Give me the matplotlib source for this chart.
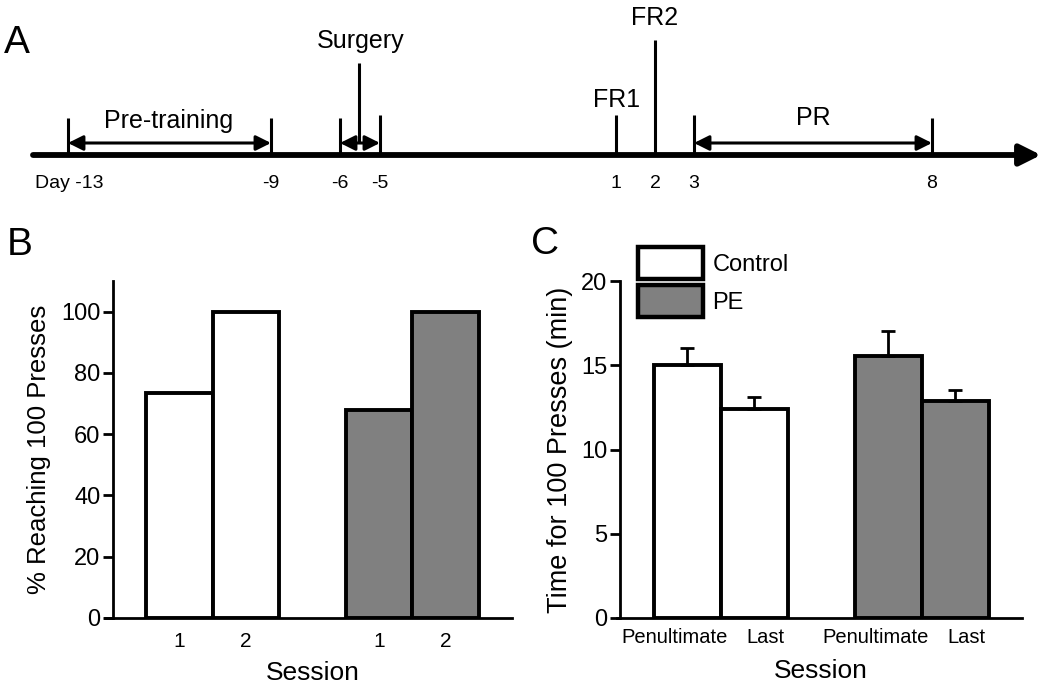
import numpy as np
import matplotlib.pyplot as plt
import matplotlib.transforms as mtransforms

plt.rcParams['font.family'] = ['Liberation Sans', 'DejaVu Sans']

# Panel A: schematic timeline (days and their schematic positions)
days = ['Day -13', '-9', '-6', '-5', '1', '2', '3', '8']
day_pos = [68, 271, 340, 380, 616, 655, 694, 932]
tick_top = [118, 118, 118, 115, 115, 40, 115, 118]

# Panel B: % reaching 100 presses
sessions_b = ['1', '2', '1', '2']
pct_control = [73.5, 100]
pct_pe = [68, 100]

# Panel C: time for 100 presses (min)
sessions_c = ['Penultimate', 'Last', 'Penultimate', 'Last']
time_control = [15.0, 12.4]
sem_control = [1.05, 0.7]
time_pe = [15.55, 12.9]
sem_pe = [1.5, 0.65]

gray = '#808080'
W, H = 1050, 688

fig = plt.figure(figsize=(10.5, 6.88), dpi=100)

# ---------- Panel A ----------
axA = fig.add_axes([0, 0, 1, 1], zorder=0)
axA.set_xlim(0, W)
axA.set_ylim(H, 0)
axA.axis('off')

line_y = 155
axA.annotate('', xy=(1041, line_y), xytext=(33, line_y),
             arrowprops=dict(arrowstyle='-|>,head_length=0.9,head_width=0.45',
                             lw=4.2, color='black', shrinkA=0, shrinkB=0,
                             mutation_scale=14))
for p, top in zip(day_pos, tick_top):
    axA.plot([p, p], [line_y, top], color='black', lw=2.2, solid_capstyle='butt')
for p, lab in zip(day_pos, days):
    if lab.startswith('Day'):
        axA.text(35, 183, lab, fontsize=14, ha='left', va='center')
    else:
        axA.text(p, 183, lab, fontsize=14, ha='center', va='center')

def dbl(ax, x0, x1, y):
    ax.annotate('', xy=(x1, y), xytext=(x0, y),
                arrowprops=dict(arrowstyle='<|-|>,head_length=0.9,head_width=0.45',
                                lw=2.2, color='black', shrinkA=0, shrinkB=0,
                                mutation_scale=10))

dbl(axA, day_pos[0], day_pos[1], 143)
dbl(axA, day_pos[2], day_pos[3], 143)
dbl(axA, day_pos[6], day_pos[7], 143)
axA.plot([359, 359], [63, 143], color='black', lw=2.2, solid_capstyle='butt')

axA.text(169, 121, 'Pre-training', fontsize=18, ha='center', va='center')
axA.text(361, 41, 'Surgery', fontsize=18, ha='center', va='center')
axA.text(617, 100, 'FR1', fontsize=18, ha='center', va='center')
axA.text(655, 18, 'FR2', fontsize=18, ha='center', va='center')
axA.text(813, 118, 'PR', fontsize=18, ha='center', va='center')

axA.text(4, 43, 'A', fontsize=28, ha='left', va='center')
axA.text(7, 245, 'B', fontsize=28, ha='left', va='center')
axA.text(531, 244, 'C', fontsize=28, ha='left', va='center')

# ---------- Panels B and C ----------
x = np.array([0.5, 1.5, 3.5, 4.5])

def style(ax, ymax, yticks):
    for s in ['top', 'right']:
        ax.spines[s].set_visible(False)
    for s in ['left', 'bottom']:
        ax.spines[s].set_linewidth(2)
    ax.set_xlim(-0.5, 5.5)
    ax.set_ylim(0, ymax)
    ax.set_yticks(yticks)
    ax.tick_params(axis='y', length=7, width=2, labelsize=17, pad=2)
    ax.tick_params(axis='x', length=0, pad=10)

axB = fig.add_axes([113 / W, (H - 618) / H, 399 / W, 337 / H], zorder=1)
axB.bar(x[:2], pct_control, width=1.0, color='white', edgecolor='black', linewidth=2.8)
axB.bar(x[2:], pct_pe, width=1.0, color=gray, edgecolor='black', linewidth=2.8)
style(axB, 110, [0, 20, 40, 60, 80, 100])
axB.spines['bottom'].set_bounds(-0.62, 5.5)
axB.set_xticks(x)
axB.set_xticklabels(sessions_b, fontsize=15)
axB.set_xlabel('Session', fontsize=19, labelpad=7)
axB.set_ylabel('% Reaching 100 Presses', fontsize=18.5, labelpad=7)

axC = fig.add_axes([620 / W, (H - 618) / H, 402 / W, 337 / H], zorder=1)
err_kw = dict(ecolor='black', elinewidth=2, capsize=5, capthick=2)
axC.bar(x[:2], time_control, width=1.0, color='white', edgecolor='black',
        linewidth=2.8, yerr=[[0, 0], sem_control], error_kw=err_kw, label='Control')
axC.bar(x[2:], time_pe, width=1.0, color=gray, edgecolor='black',
        linewidth=2.8, yerr=[[0, 0], sem_pe], error_kw=err_kw, label='PE')
style(axC, 20, [0, 5, 10, 15, 20])
axC.spines['bottom'].set_bounds(-0.55, 5.5)
axC.set_xticks(x)
axC.set_xticklabels(sessions_c, fontsize=14.5)
axC.tick_params(axis='x', pad=7)
# spread labels apart a little, as in the original figure
for lab, dx in zip(axC.get_xticklabels(), [-9, 8, -9, 8]):
    lab.set_transform(lab.get_transform() +
                      mtransforms.ScaledTranslation(dx / 72, 0, fig.dpi_scale_trans))
axC.set_xlabel('Session', fontsize=19, labelpad=9)
axC.set_ylabel('Time for 100 Presses (min)', fontsize=19.5, labelpad=6)
leg = axC.legend(loc='upper left', bbox_to_anchor=(0.045, 1.1), frameon=False,
                 fontsize=17, handlelength=2.75, handleheight=1.7,
                 handletextpad=0.4, labelspacing=0.25, borderaxespad=0, borderpad=0)
for h in leg.legend_handles:
    h.set_linewidth(3.2)

fig.savefig('out.png', dpi=100)
